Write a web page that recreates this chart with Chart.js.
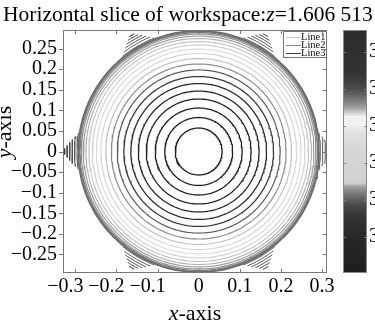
<!DOCTYPE html>
<html><head><meta charset="utf-8">
<style>html,body{margin:0;padding:0;background:#fff;}#wrap{width:375px;height:327px;position:relative;overflow:hidden}</style>
<script src="https://cdn.jsdelivr.net/npm/chart.js@4.4.0/dist/chart.umd.min.js"></script>
</head><body><div id="wrap"><canvas id="c" width="375" height="327" style="width:375px;height:327px"></canvas></div>
<script>
// ---- data ----
const titleParts = [['Horizontal slice of workspace:', 'normal'], ['z', 'italic'], ['=1.606 513', 'normal']];
const xTitleParts = [['x', 'italic'], ['-axis', 'normal']];
const yTitleParts = [['y', 'italic'], ['-axis', 'normal']];
const xTicks = [-0.3, -0.2, -0.1, 0, 0.1, 0.2, 0.3];
const yTicks = [-0.25, -0.2, -0.15, -0.1, -0.05, 0, 0.05, 0.1, 0.15, 0.2, 0.25];
const xRange = [-0.33, 0.312];
const yRange = [-0.295, 0.295];

// concentric contour lines (radius in workspace units) and their grey levels
const contourRadii  = [0.057, 0.0825, 0.1056, 0.1274, 0.1468, 0.165, 0.182, 0.198, 0.2124, 0.2257, 0.2379, 0.2488, 0.2585, 0.267, 0.2743, 0.2803, 0.2852, 0.2888, 0.2925];
const contourColors = ['#1e1e1e', '#1e1e1e', '#202020', '#222222', '#262626', '#2c2c2c', '#3a3a3a', '#5a5a5a', '#8c8c8c', '#bdbdbd', '#d4d4d4', '#dadada', '#cfcfcf', '#c2c2c2', '#b0b0b0', '#a0a0a0', '#909090', '#7a7a7a', '#6c6c6c'];
const contourWidths = [1.3, 1.3, 1.3, 1.3, 1.3, 1.3, 1.3, 1.2, 1.2, 1.1, 1.1, 1.1, 1.1, 1.1, 1.1, 1.2, 1.2, 1.4, 2.2];

// short contour arcs at the six corners of the hexagonal boundary
const tipVertexDeg = [0, 60, 120, 180, 240, 300];
const tipRadii     = [0.296, 0.302, 0.308, 0.314, 0.320, 0.326];
const tipHalfSpan  = [0.15, 0.12, 0.095, 0.07, 0.045, 0.022];
const tipColors    = ['#666666', '#5a5a5a', '#505050', '#484848', '#404040', '#383838'];

const legendLabels = ['Line1', 'Line2', 'Line3'];
const legendColors = ['#c8c8c8', '#8a8a8a', '#3a3a3a'];

// colour bar
const cbRange = [2.903, 3.5595];
const cbTicks = [3.0, 3.1, 3.2, 3.3, 3.4, 3.5];
const cbStopPos    = [0.00, 0.18, 0.24, 0.28, 0.32, 0.34, 0.355, 0.39, 0.42, 0.50, 0.63, 0.645, 0.68, 0.72, 0.77, 0.88, 1.00];
const cbStopColors = ['#2c2c2c', '#333333', '#4a4a4a', '#707070', '#a0a0a0', '#cfcfcf', '#f0f0f0', '#f2f2f2', '#e2e2e2', '#d6d6d6', '#d0d0d0', '#a0a0a0', '#707070', '#4a4a4a', '#333333', '#262626', '#1e1e1e'];

const SERIF = '"Liberation Serif", "Times New Roman", serif';

function arcPoints(r, a0, a1, n) {
  const pts = [];
  for (let i = 0; i <= n; i++) {
    const a = a0 + (a1 - a0) * i / n;
    pts.push({x: r * Math.cos(a), y: r * Math.sin(a)});
  }
  return pts;
}

const datasets = [];
contourRadii.forEach((r, i) => {
  datasets.push({label: 'c' + i, data: arcPoints(r, 0, 2 * Math.PI, 200), borderColor: contourColors[i], borderWidth: contourWidths[i], showLine: true, pointRadius: 0, fill: false, tension: 0, clip: 0});
});
tipVertexDeg.forEach(d => {
  const c = d * Math.PI / 180;
  tipRadii.forEach((r, k) => {
    datasets.push({label: 't', data: arcPoints(r, c - tipHalfSpan[k], c + tipHalfSpan[k], 12), borderColor: tipColors[k], borderWidth: 1, showLine: true, pointRadius: 0, fill: false, tension: 0, clip: 0});
  });
});

function fmt(v) { return (v < 0 ? '\u2212' : '') + String(Math.abs(v)); }

function drawParts(ctx, parts, size) {
  let w = 0;
  parts.forEach(p => { ctx.font = p[1] + ' ' + size + 'px ' + SERIF; w += ctx.measureText(p[0]).width; });
  return w;
}
function fillParts(ctx, parts, size, x, y) {
  parts.forEach(p => { ctx.font = p[1] + ' ' + size + 'px ' + SERIF; ctx.fillText(p[0], x, y); x += ctx.measureText(p[0]).width; });
}
function noPad(s) { s.paddingTop = 0; s.paddingBottom = 0; }

const decor = {
  id: 'decor',
  beforeDraw(chart) {
    const {ctx, chartArea: a} = chart;
    ctx.save();
    ctx.fillStyle = '#fff';
    ctx.fillRect(0, 0, chart.width, chart.height);
    // colour bar
    const cb = chart.scales.cb;
    const x0 = a.right + 16, x1 = a.right + 40;
    const g = ctx.createLinearGradient(0, a.top, 0, a.bottom);
    cbStopPos.forEach((p, i) => g.addColorStop(p, cbStopColors[i]));
    ctx.fillStyle = g;
    ctx.fillRect(x0, a.top, x1 - x0, a.bottom - a.top);
    ctx.strokeStyle = '#8a8a8a';
    ctx.lineWidth = 1;
    ctx.strokeRect(x0 + 0.5, a.top + 0.5, x1 - x0 - 1, a.bottom - a.top - 1);
    ctx.strokeStyle = 'rgba(128,128,128,0.9)';
    cbTicks.forEach(v => {
      const y = Math.round(cb.getPixelForValue(v)) + 0.5;
      ctx.beginPath();
      ctx.moveTo(x0, y); ctx.lineTo(x0 + 3, y);
      ctx.moveTo(x1, y); ctx.lineTo(x1 - 3, y);
      ctx.stroke();
    });
    ctx.restore();
  },
  afterDatasetsDraw(chart) {
    const {ctx, chartArea: a} = chart;
    ctx.save();
    // legend box
    const bw = 44, bh = 27;
    const bx = a.right - bw, by = a.top + 1;
    ctx.fillStyle = '#fff';
    ctx.fillRect(bx, by, bw, bh);
    ctx.strokeStyle = '#777';
    ctx.lineWidth = 1;
    ctx.strokeRect(bx + 0.5, by + 0.5, bw - 1, bh - 1);
    ctx.font = '10.5px ' + SERIF;
    ctx.textBaseline = 'middle';
    ctx.fillStyle = '#111';
    legendLabels.forEach((t, i) => {
      const y = by + 6 + i * 8;
      ctx.strokeStyle = legendColors[i];
      ctx.beginPath();
      ctx.moveTo(bx + 3, y + 0.5); ctx.lineTo(bx + 18, y + 0.5);
      ctx.stroke();
      ctx.fillText(t, bx + 18, y);
    });
    // frame
    ctx.strokeStyle = '#777';
    ctx.strokeRect(a.left + 0.5, a.top + 0.5, a.right - a.left - 1, a.bottom - a.top - 1);
    ctx.beginPath();
    const xs = chart.scales.x, ys = chart.scales.y;
    xTicks.forEach(v => {
      const x = Math.round(xs.getPixelForValue(v)) + 0.5;
      ctx.moveTo(x, a.bottom); ctx.lineTo(x, a.bottom - 4);
      ctx.moveTo(x, a.top); ctx.lineTo(x, a.top + 4);
    });
    yTicks.forEach(v => {
      const y = Math.round(ys.getPixelForValue(v)) + 0.5;
      ctx.moveTo(a.left - 4, y); ctx.lineTo(a.left, y);
      ctx.moveTo(a.right, y); ctx.lineTo(a.right - 4, y);
    });
    ctx.stroke();
    // titles
    ctx.fillStyle = '#000';
    ctx.textBaseline = 'alphabetic';
    fillParts(ctx, titleParts, 21.5, 3, 21);
    const xw = drawParts(ctx, xTitleParts, 22);
    fillParts(ctx, xTitleParts, 22, (a.left + a.right) / 2 - xw / 2, 320);
    const yw = drawParts(ctx, yTitleParts, 22);
    ctx.translate(11, 132);
    ctx.rotate(-Math.PI / 2);
    fillParts(ctx, yTitleParts, 22, -yw / 2, 0);
    ctx.restore();
  }
};

new Chart(document.getElementById('c'), {
  type: 'scatter',
  data: {datasets},
  options: {
    responsive: false,
    animation: false,
    events: [],
    layout: {padding: {top: 30, left: 0, right: 0, bottom: 0}},
    plugins: {legend: {display: false}, tooltip: {enabled: false}, title: {display: false}},
    scales: {
      x: {
        type: 'linear', position: 'bottom', min: xRange[0], max: xRange[1],
        afterBuildTicks: s => { s.ticks = xTicks.map(v => ({value: v})); },
        afterFit: s => { s.height = 54; s.paddingLeft = 0; s.paddingRight = 0; },
        grid: {display: false, drawTicks: false}, border: {display: false},
        ticks: {padding: 2, color: '#000', font: {family: SERIF, size: 20}, maxRotation: 0, autoSkip: false,
          callback: v => v < 0 ? fmt(v) + '\u2003' : fmt(v)}
      },
      y: {
        type: 'linear', position: 'left', min: yRange[0], max: yRange[1],
        afterBuildTicks: s => { s.ticks = yTicks.map(v => ({value: v})); },
        afterFit: s => { s.width = 63; noPad(s); },
        grid: {display: false, drawTicks: false}, border: {display: false},
        ticks: {padding: 6, color: '#000', font: {family: SERIF, size: 20}, autoSkip: false, callback: v => fmt(v)}
      },
      cb: {
        type: 'linear', position: 'right', min: cbRange[0], max: cbRange[1],
        afterBuildTicks: s => { s.ticks = cbTicks.map(v => ({value: v})); },
        afterFit: s => { s.width = 48; noPad(s); },
        grid: {display: false, drawTicks: false}, border: {display: false},
        ticks: {padding: 42, color: '#000', font: {family: SERIF, size: 20}, autoSkip: false, callback: v => v.toFixed(1)}
      }
    }
  },
  plugins: [decor]
});
</script>
</body></html>
